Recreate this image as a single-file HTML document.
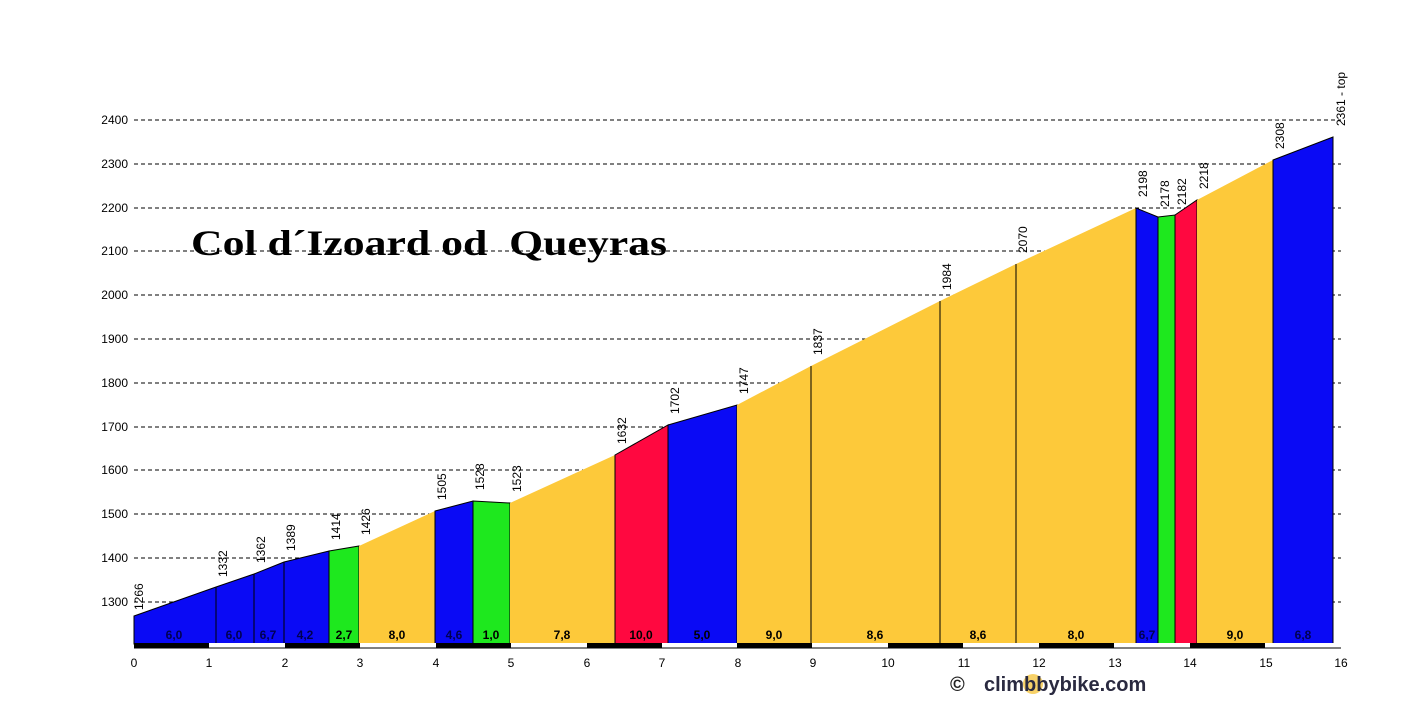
<!DOCTYPE html>
<html><head><meta charset="utf-8"><style>body{margin:0;background:#fff}svg{display:block}</style></head><body>
<svg width="1428" height="704" xmlns="http://www.w3.org/2000/svg" font-family="Liberation Sans, sans-serif">
<rect width="1428" height="704" fill="#fff"/>
<g stroke="#000" stroke-dasharray="4,3" stroke-width="1">
<line x1="134" y1="120" x2="1341" y2="120"/><line x1="134" y1="164" x2="1341" y2="164"/><line x1="134" y1="208" x2="1341" y2="208"/><line x1="134" y1="251" x2="1341" y2="251"/><line x1="134" y1="295" x2="1341" y2="295"/><line x1="134" y1="339" x2="1341" y2="339"/><line x1="134" y1="383" x2="1341" y2="383"/><line x1="134" y1="427" x2="1341" y2="427"/><line x1="134" y1="470" x2="1341" y2="470"/><line x1="134" y1="514" x2="1341" y2="514"/><line x1="134" y1="558" x2="1341" y2="558"/><line x1="134" y1="602" x2="1341" y2="602"/>
</g>
<g font-size="12" text-anchor="end">
<text x="128" y="124">2400</text><text x="128" y="168">2300</text><text x="128" y="212">2200</text><text x="128" y="255">2100</text><text x="128" y="299">2000</text><text x="128" y="343">1900</text><text x="128" y="387">1800</text><text x="128" y="431">1700</text><text x="128" y="474">1600</text><text x="128" y="518">1500</text><text x="128" y="562">1400</text><text x="128" y="606">1300</text>
</g>
<g stroke="#000" stroke-width="1">
<polygon fill="#0a0af5" points="134,616 216,587 254,574 284,562 329,551 329,644 134,644"/>
<polygon fill="#1ee81e" points="329,551 359,546 359,644 329,644"/>
<polygon fill="#fdc93a" stroke="none" points="359,546 435,511 435,644 359,644"/>
<polygon fill="#0a0af5" points="435,511 473,501 473,644 435,644"/>
<polygon fill="#1ee81e" points="473,501 510,503 510,644 473,644"/>
<polygon fill="#fdc93a" stroke="none" points="510,503 615,455 615,644 510,644"/>
<polygon fill="#ff0840" points="615,455 668,425 668,644 615,644"/>
<polygon fill="#0a0af5" points="668,425 737,405 737,644 668,644"/>
<polygon fill="#fdc93a" stroke="none" points="737,405 811,366 940,301 1016,264 1136,208 1136,644 737,644"/>
<polygon fill="#0a0af5" points="1136,208 1158,217 1158,644 1136,644"/>
<polygon fill="#1ee81e" points="1158,217 1175,215 1175,644 1158,644"/>
<polygon fill="#ff0840" points="1175,215 1197,200 1197,644 1175,644"/>
<polygon fill="#fdc93a" stroke="none" points="1197,200 1273,160 1273,644 1197,644"/>
<polygon fill="#0a0af5" points="1273,160 1333,137 1333,644 1273,644"/>
<line x1="216" y1="587" x2="216" y2="644"/><line x1="254" y1="574" x2="254" y2="644"/><line x1="284" y1="562" x2="284" y2="644"/>
<line x1="811" y1="366" x2="811" y2="644"/><line x1="940" y1="301" x2="940" y2="644"/><line x1="1016" y1="264" x2="1016" y2="644"/>
</g>
<rect x="134" y="643" width="1207" height="5" fill="#fff"/>
<g fill="#000">
<rect x="134" y="643" width="75" height="5"/><rect x="285" y="643" width="75" height="5"/><rect x="436" y="643" width="75" height="5"/><rect x="587" y="643" width="75" height="5"/><rect x="737" y="643" width="75" height="5"/><rect x="888" y="643" width="75" height="5"/><rect x="1039" y="643" width="75" height="5"/><rect x="1190" y="643" width="75" height="5"/>
</g>
<line x1="134" y1="648" x2="1341" y2="648" stroke="#000"/>
<g font-size="12" text-anchor="middle">
<text x="134" y="667">0</text><text x="209" y="667">1</text><text x="285" y="667">2</text><text x="360" y="667">3</text><text x="436" y="667">4</text><text x="511" y="667">5</text><text x="587" y="667">6</text><text x="662" y="667">7</text><text x="738" y="667">8</text><text x="813" y="667">9</text><text x="888" y="667">10</text><text x="964" y="667">11</text><text x="1039" y="667">12</text><text x="1115" y="667">13</text><text x="1190" y="667">14</text><text x="1266" y="667">15</text><text x="1341" y="667">16</text>
</g>
<g font-size="12" font-weight="bold" text-anchor="middle">
<g fill="#000050"><text x="174" y="639">6,0</text><text x="234" y="639">6,0</text><text x="268" y="639">6,7</text><text x="305" y="639">4,2</text><text x="454" y="639">4,6</text><text x="1147" y="639">6,7</text><text x="1303" y="639">6,8</text><text x="702" y="639" fill="#000">5,0</text></g>
<text x="344" y="639">2,7</text><text x="397" y="639">8,0</text><text x="491" y="639">1,0</text><text x="562" y="639">7,8</text><text x="641" y="639">10,0</text><text x="774" y="639">9,0</text><text x="875" y="639">8,6</text><text x="978" y="639">8,6</text><text x="1076" y="639">8,0</text><text x="1235" y="639">9,0</text>
</g>
<g font-size="12">
<text transform="translate(143,610) rotate(-90)">1266</text>
<text transform="translate(227,577) rotate(-90)">1332</text>
<text transform="translate(265,563) rotate(-90)">1362</text>
<text transform="translate(295,551) rotate(-90)">1389</text>
<text transform="translate(340,540) rotate(-90)">1414</text>
<text transform="translate(370,535) rotate(-90)">1426</text>
<text transform="translate(446,500) rotate(-90)">1505</text>
<text transform="translate(484,490) rotate(-90)">1528</text>
<text transform="translate(521,492) rotate(-90)">1523</text>
<text transform="translate(626,444) rotate(-90)">1632</text>
<text transform="translate(679,414) rotate(-90)">1702</text>
<text transform="translate(748,394) rotate(-90)">1747</text>
<text transform="translate(822,355) rotate(-90)">1837</text>
<text transform="translate(951,290) rotate(-90)">1984</text>
<text transform="translate(1027,253) rotate(-90)">2070</text>
<text transform="translate(1147,197) rotate(-90)">2198</text>
<text transform="translate(1169,207) rotate(-90)">2178</text>
<text transform="translate(1186,205) rotate(-90)">2182</text>
<text transform="translate(1208,189) rotate(-90)">2218</text>
<text transform="translate(1284,149) rotate(-90)">2308</text>
<text transform="translate(1345,126) rotate(-90)">2361 - top</text>
</g>
<text x="191" y="255" font-family="Liberation Serif, serif" font-weight="bold" font-size="36" textLength="476" lengthAdjust="spacingAndGlyphs" xml:space="preserve">Col d´Izoard od  Queyras</text>
<circle cx="1033" cy="684" r="10" fill="#f5c542" opacity="0.8"/>
<text x="950" y="691" font-size="20" font-weight="bold" fill="#222">©</text>
<text x="984" y="691" font-size="20" font-weight="bold" fill="#2a2a40">climbbybike.com</text>
</svg>
</body></html>
